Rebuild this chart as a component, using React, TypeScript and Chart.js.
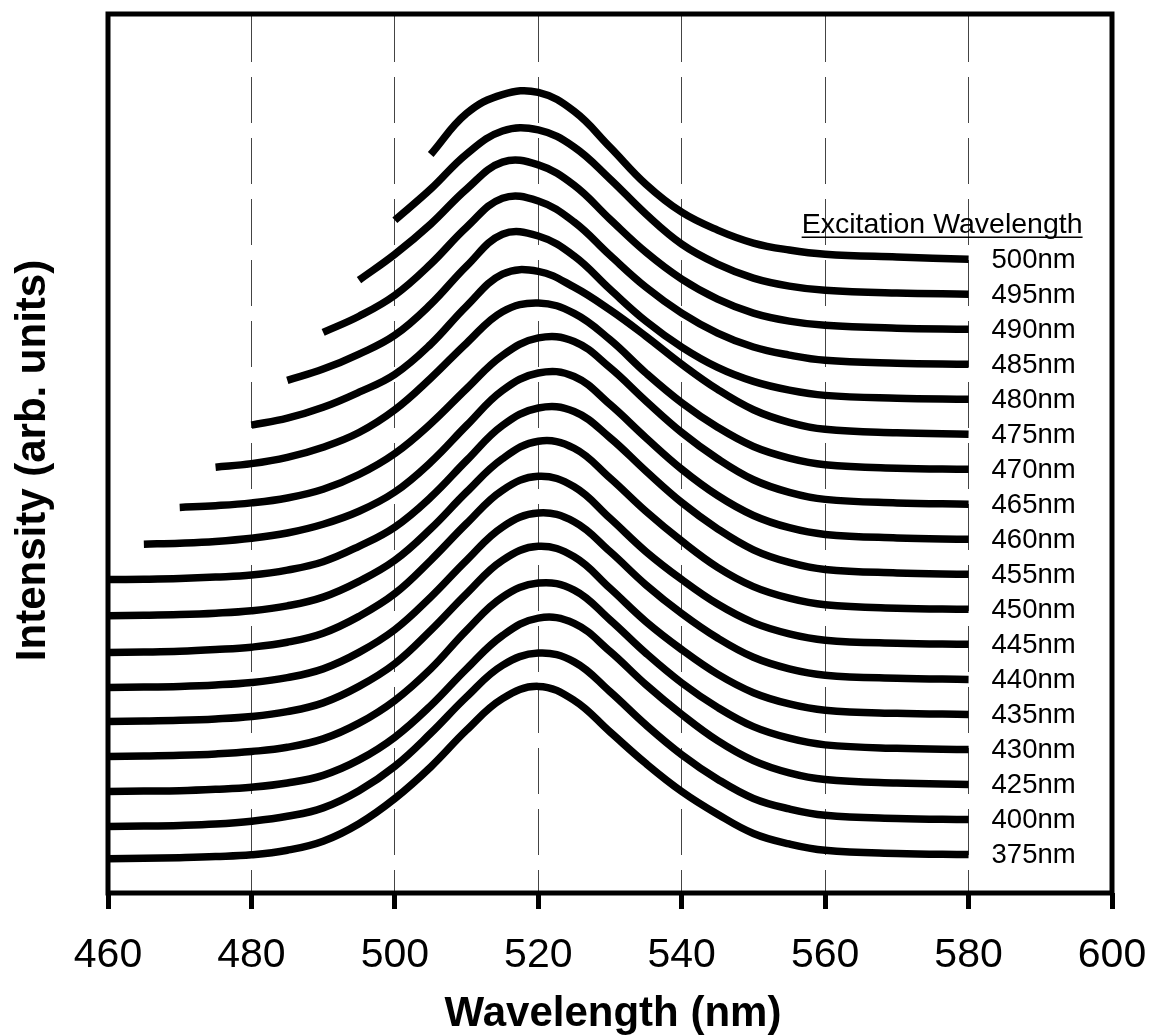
import React, { useEffect, useRef } from "react";
import { Chart, registerables } from "chart.js";

Chart.register(...registerables);

// Emission wavelength grid (nm); every spectrum ends at 580 nm and starts
// either at 460 nm or 5 nm above its excitation line.
const emissionNm = [460, 465, 470, 475, 480, 485, 490, 495, 500, 505, 510, 515, 520, 525, 530, 535, 540, 545, 550, 555, 560, 570, 580];

// Excitation wavelengths, bottom trace first.
const excitationNm = [375, 400, 425, 430, 435, 440, 445, 450, 455, 460, 465, 470, 475, 480, 485, 490, 495, 500];

// PL intensity (arb. units), aligned to the tail of emissionNm.
const pl375 = [-1.2, -1.1, -0.9, -0.6, -0.1, 1.2, 3.8, 8.8, 16, 25, 35.5, 44.5, 48, 44, 35, 26, 18, 11.5, 6, 3, 1.2, 0.3, 0];
const pl400 = [-2, -1.9, -1.7, -1.3, -0.5, 0.9, 3.3, 8.2, 15.2, 24.6, 35, 44, 47.5, 45, 36.5, 27, 18.5, 11.5, 6, 3, 1.2, 0.3, 0];
const pl425 = [-2, -1.9, -1.8, -1.4, -0.8, 0.4, 2.6, 7, 13.5, 22.5, 33, 42.5, 47.5, 46, 38, 28.5, 20, 12.5, 6.8, 3.3, 1.4, 0.4, 0];
const pl430 = [-2, -1.9, -1.7, -1.3, -0.6, 0.6, 3, 7.5, 14, 23, 34, 43.5, 47.5, 45.5, 37, 27.5, 19, 12, 6.5, 3.2, 1.3, 0.3, 0];
const pl435 = [-2, -1.9, -1.7, -1.3, -0.6, 0.8, 3.3, 8, 14.5, 24, 34.5, 44, 48, 45, 36, 26.5, 18.5, 11.5, 6.2, 3, 1.2, 0.3, 0];
const pl440 = [-2.3, -2.2, -2, -1.6, -0.9, 0.5, 3, 7.7, 14.2, 23.5, 34, 43.5, 47.5, 45, 36.5, 27, 18.8, 11.8, 6.3, 3, 1.2, 0.3, 0];
const pl445 = [-2.3, -2.2, -2, -1.5, -0.8, 0.6, 3.2, 8, 14.5, 24, 34.5, 44, 48, 45, 36, 26.5, 18.5, 11.5, 6.2, 3, 1.2, 0.3, 0];
const pl450 = [-1.8, -1.7, -1.5, -1.1, -0.4, 1, 3.5, 8, 14, 23, 33.5, 43, 48, 46, 37.5, 28, 19.5, 12, 6.5, 3.2, 1.3, 0.3, 0];
const pl455 = [-1.5, -1.4, -1.2, -0.8, -0.2, 1.2, 3.6, 8, 13.5, 22, 32.5, 42.5, 47.5, 46.5, 39, 29.5, 20.5, 13, 7, 3.4, 1.4, 0.4, 0];
const pl460 = [-1.4, -1.1, -0.6, 0.3, 1.8, 4.3, 8, 13.5, 22, 32.5, 42.5, 47.5, 46.5, 38.5, 29, 20, 12.5, 6.8, 3.3, 1.4, 0.4, 0];
const pl465 = [-0.9, -0.4, 0.4, 1.8, 4.3, 8.5, 14.5, 23, 33, 42.5, 47.5, 46.5, 39, 29.5, 20.5, 13, 7, 3.4, 1.4, 0.4, 0];
const pl470 = [0.6, 1.6, 3.4, 6.3, 10.5, 17, 26, 36, 45, 47.5, 44.5, 37, 27.5, 19, 12, 6.5, 3.2, 1.3, 0.3, 0];
const pl475 = [2.6, 4.6, 7.7, 12, 17.1, 25.7, 36.6, 45.7, 46.5, 42, 35.5, 28, 20, 12.8, 7, 3.4, 1.4, 0.4, 0];
const pl480 = [5.4, 8.6, 12.9, 18.3, 27.1, 38, 47.1, 46.6, 40.9, 31.4, 22.3, 14.9, 9.1, 5.1, 2.6, 1.1, 0.3, 0];
const pl485 = [9.1, 13.7, 19.7, 28.6, 39.1, 47.4, 46.6, 40.6, 31.1, 22, 14.6, 8.9, 4.9, 2.6, 1.1, 0.3, 0];
const pl490 = [14, 21.4, 30, 40, 47.7, 46.9, 41.1, 31.4, 22, 14.3, 8.6, 4.6, 2.3, 1.1, 0.3, 0];
const pl495 = [21.1, 30, 40, 46.6, 46.9, 42, 32.9, 22.9, 14.3, 8.6, 4.6, 2.3, 1.1, 0.3, 0];
const pl500 = [29.9, 41.6, 47, 47.6, 42.2, 32, 21.4, 13.4, 8.3, 4.6, 2.6, 1.4, 0.6, 0];

const spectra = [pl375, pl400, pl425, pl430, pl435, pl440, pl445, pl450, pl455, pl460, pl465, pl470, pl475, pl480, pl485, pl490, pl495, pl500];

// Vertical stacking step between successive traces (arb. units).
const OFFSET_STEP = 10;

const SANS = "'Liberation Sans', Arial, Helvetica, sans-serif";

const decorPlugin = {
  id: "decor",
  afterDatasetsDraw(chart: any) {
    const { ctx, chartArea } = chart;
    const { left, top, right, bottom } = chartArea;

    // heavy frame round the plotting area
    ctx.save();
    ctx.strokeStyle = "#000";
    ctx.lineWidth = 5;
    ctx.strokeRect(left, top, right - left, bottom - top);
    ctx.restore();

    // trace labels at the right-hand end of every trace
    ctx.save();
    ctx.fillStyle = "#000";
    ctx.font = `27.5px ${SANS}`;
    ctx.textAlign = "left";
    ctx.textBaseline = "middle";
    let topEnd = { x: 0, y: 0 };
    chart.data.datasets.forEach((ds: any, i: number) => {
      const meta = chart.getDatasetMeta(i);
      const last = meta.data[meta.data.length - 1];
      ctx.fillText(ds.label, last.x + 23, last.y + 1);
      if (i === chart.data.datasets.length - 1) topEnd = { x: last.x, y: last.y };
    });

    // legend header, underlined
    const header = "Excitation Wavelength";
    ctx.font = `28.5px ${SANS}`;
    const hx = topEnd.x + 114;
    const hy = topEnd.y - 26;
    ctx.textAlign = "right";
    ctx.textBaseline = "alphabetic";
    ctx.fillText(header, hx, hy);
    const w = ctx.measureText(header).width;
    ctx.strokeStyle = "#000";
    ctx.lineWidth = 1.5;
    ctx.beginPath();
    ctx.moveTo(hx - w, hy + 4);
    ctx.lineTo(hx, hy + 4);
    ctx.stroke();
    ctx.restore();

    // axis titles
    ctx.save();
    ctx.fillStyle = "#000";
    ctx.font = `bold 42px ${SANS}`;
    ctx.textAlign = "center";
    ctx.textBaseline = "alphabetic";
    ctx.fillText("Wavelength (nm)", (left + right) / 2 + 3, chart.height - 10);
    ctx.translate(45, (top + bottom) / 2 + 7);
    ctx.rotate(-Math.PI / 2);
    ctx.fillText("Intensity (arb. units)", 0, 0);
    ctx.restore();
  },
};

export default function App() {
  const canvasRef = useRef<HTMLCanvasElement | null>(null);

  useEffect(() => {
    if (!canvasRef.current) return;

    const datasets = spectra.map((values, k) => {
      const start = emissionNm.length - values.length;
      return {
        label: `${excitationNm[k]}nm`,
        data: values.map((v, i) => ({ x: emissionNm[start + i], y: OFFSET_STEP * (k + 1) + v })),
        borderColor: "#000",
        backgroundColor: "#000",
        borderWidth: 7.5,
        borderCapStyle: "butt" as const,
        borderJoinStyle: "round" as const,
        pointRadius: 0,
        tension: 0.4,
        fill: false,
      };
    });

    const chart = new Chart(canvasRef.current, {
      type: "line",
      data: { datasets },
      options: {
        animation: false,
        responsive: true,
        maintainAspectRatio: false,
        devicePixelRatio: 1,
        layout: { padding: { left: 108, right: 39, top: 14, bottom: 0 } },
        plugins: { legend: { display: false }, tooltip: { enabled: false } },
        scales: {
          x: {
            type: "linear",
            min: 460,
            max: 600,
            afterFit: (scale: any) => {
              scale.height = 143;
              // the outer padding already leaves room for the end labels
              scale.paddingLeft = 0;
              scale.paddingRight = 0;
            },
            ticks: {
              stepSize: 20,
              color: "#000",
              padding: 26,
              maxRotation: 0,
              font: { family: SANS, size: 41, lineHeight: 1 },
            },
            grid: {
              color: "#444",
              lineWidth: 1,
              drawTicks: true,
              tickLength: 16,
              tickWidth: 5,
              tickColor: "#000",
            },
            border: { display: false, dash: [46, 15], dashOffset: -2 },
          },
          y: {
            display: false,
            min: -1,
            max: 250,
          },
        },
      },
      plugins: [decorPlugin],
    });

    return () => chart.destroy();
  }, []);

  return (
    <div style={{ position: "fixed", left: 0, top: 0, width: 1151, height: 1036, background: "#fff" }}>
      <canvas ref={canvasRef} />
    </div>
  );
}
